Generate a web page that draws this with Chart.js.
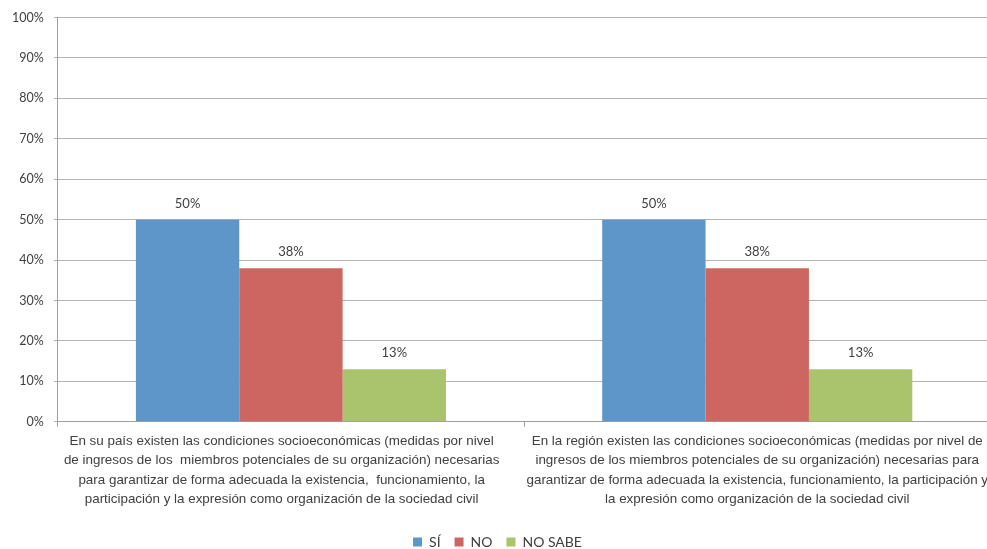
<!DOCTYPE html>
<html>
<head>
<meta charset="utf-8">
<script src="https://cdn.jsdelivr.net/npm/chart.js@4/dist/chart.umd.min.js"></script>
<style>
  html, body { margin: 0; padding: 0; background: #fff; overflow: hidden; }
  #wrap { width: 993px; height: 559px; }
</style>
</head>
<body>
<div id="wrap"><canvas id="encuesta"></canvas></div>
<script>
// Categorías (cada una partida en líneas como en el eje)
const categorias = [
  [
    "En su país existen las condiciones socioeconómicas (medidas por nivel     ",
    "de ingresos de los  miembros potenciales de su organización) necesarias     ",
    "para garantizar de forma adecuada la existencia,  funcionamiento, la     ",
    "participación y la expresión como organización de la sociedad civil     "
  ],
  [
    "En la región existen las condiciones socioeconómicas (medidas por nivel de",
    "ingresos de los miembros potenciales de su organización) necesarias para",
    "garantizar de forma adecuada la existencia, funcionamiento, la participación y",
    "la expresión como organización de la sociedad civil"
  ]
];

const valoresSi = [50, 50];
const valoresNo = [38, 38];
const valoresNoSabe = [13, 13];

const ticksY = [0, 10, 20, 30, 40, 50, 60, 70, 80, 90, 100];

const gris = "#404040";

// Etiquetas de porcentaje encima de cada barra
const etiquetasBarras = {
  id: "etiquetasBarras",
  afterDatasetsDraw(chart) {
    const ctx = chart.ctx;
    ctx.save();
    ctx.font = "13px Lato, 'Liberation Sans', sans-serif";
    ctx.fillStyle = gris;
    ctx.textAlign = "center";
    ctx.textBaseline = "middle";
    chart.data.datasets.forEach((ds, i) => {
      chart.getDatasetMeta(i).data.forEach((bar, j) => {
        ctx.fillText(Math.round(ds.data[j]) + "%", bar.x, bar.y - 16);
      });
    });
    ctx.restore();
  }
};

new Chart(document.getElementById("encuesta").getContext("2d"), {
  type: "bar",
  data: {
    labels: categorias,
    datasets: [
      { label: "SÍ", data: valoresSi, backgroundColor: "#5F96C9" },
      { label: "NO", data: valoresNo, backgroundColor: "#CD6660" },
      { label: "NO SABE", data: valoresNoSabe, backgroundColor: "#AAC46D" }
    ]
  },
  options: {
    responsive: true,
    maintainAspectRatio: false,
    animation: false,
    layout: { padding: { left: 2, top: 10, right: 0, bottom: 0 } },
    datasets: {
      bar: { categoryPercentage: 0.665, barPercentage: 1 }
    },
    plugins: {
      tooltip: { enabled: false },
      legend: {
        position: "bottom",
        labels: {
          boxWidth: 9,
          boxHeight: 9,
          padding: 14,
          color: gris,
          font: { family: "Lato, 'Liberation Sans', sans-serif", size: 14 }
        }
      }
    },
    scales: {
      x: {
        grid: { drawOnChartArea: false, offset: true, tickLength: 5, color: "#9e9e9e" },
        border: { color: "#9e9e9e" },
        afterFit(scale) {
          // deja aire entre las etiquetas y la leyenda
          scale.height += 7;
        },
        ticks: {
          maxRotation: 0,
          autoSkip: false,
          color: gris,
          padding: 5,
          font: { family: "'Liberation Sans', Arial, sans-serif", size: 13.4, lineHeight: 1.44 }
        }
      },
      y: {
        min: 0,
        max: 100,
        afterBuildTicks(axis) {
          axis.ticks = ticksY.map(v => ({ value: v }));
        },
        grid: { color: "#b3b3b3", tickLength: 4 },
        border: { color: "#9e9e9e" },
        ticks: {
          color: gris,
          padding: 10,
          font: { family: "Lato, 'Liberation Sans', sans-serif", size: 12.5 },
          callback: v => v + "%"
        }
      }
    }
  },
  plugins: [etiquetasBarras]
});
</script>
</body>
</html>
